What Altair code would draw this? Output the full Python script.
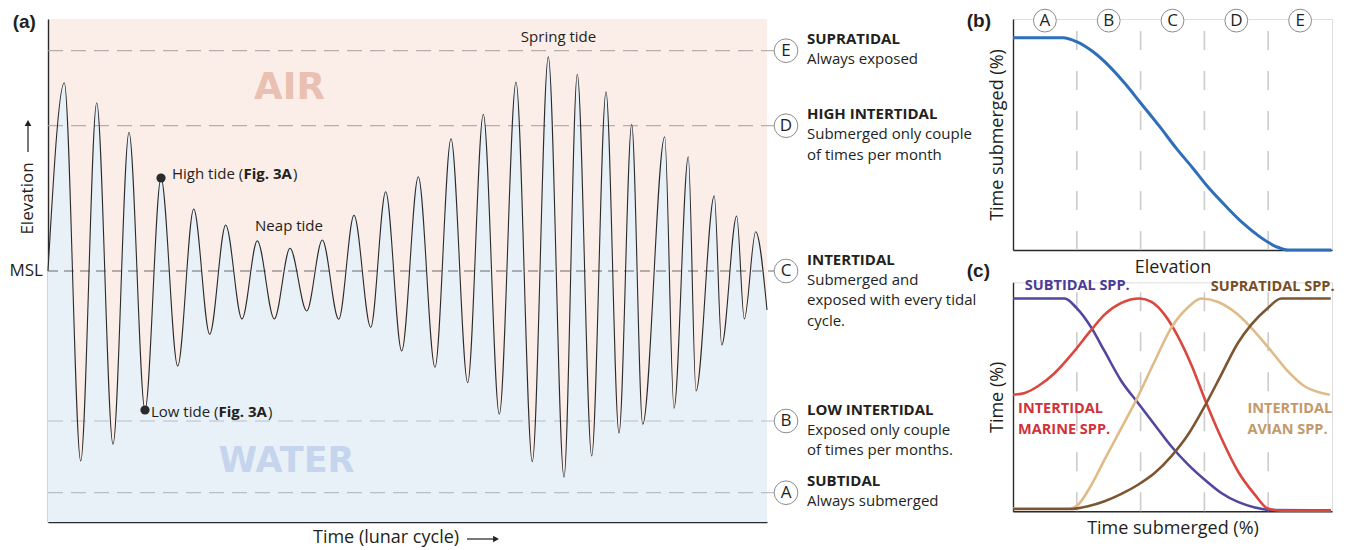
import altair as alt
import pandas as pd

FONT = "Open Sans"
LABEL_FONT = "Liberation Sans"
INK = "#231f20"

# ---------------- panel (a): tide curve (time units, elevation relative to MSL) -------------
tide_time = [0, 16.3, 32.7, 48.7, 65, 81, 97, 113, 129.7, 145.7, 161.7, 177.7, 194, 209.3,
             226.3, 242, 258.7, 274.3, 290.7, 306, 322.7, 337.7, 353.7, 370.3, 387, 403,
             419.7, 435.3, 451.3, 468, 484.3, 500.3, 516, 529.3, 543.7, 558, 571, 583.7,
             594.7, 616.7, 626, 640.3, 648, 666.3, 673.7, 688.7, 696.3, 707.7, 719]
tide_elev = [0, 188.3, -190, 168.3, -173.3, 138.7, -139, 93, -95, 62, -63.3, 46, -48, 30.3,
             -48, 22.7, -40, 31, -48.3, 55.7, -56.3, 79.3, -80, 94.3, -96.3, 132.3, -111.7,
             156.7, -143.3, 189, -190.7, 214.3, -206.3, 196.7, -185, 179.3, -162.3, 146.7,
             -153.3, 134.3, -137.3, 114.3, -120, 75.3, -74, 55, -48, 39.3, -39]

zone_ids = ["A", "B", "C", "D", "E"]
zone_elev = [-221.7, -150.0, 0.0, 145.3, 220.3]
zone_head = ["SUBTIDAL", "LOW INTERTIDAL", "INTERTIDAL", "HIGH INTERTIDAL", "SUPRATIDAL"]
zone_desc = ["Always submerged",
             "Exposed only couple\nof times per months.",
             "Submerged and\nexposed with every tidal\ncycle.",
             "Submerged only couple\nof times per month",
             "Always exposed"]

marker_time = [113, 97]      # high tide, low tide
marker_elev = [93, -139]

# ---------------- panel (b): time submerged vs elevation ----------------
elev_pct = [0, 15.7, 19.9, 25.1, 30.3, 35.5, 39.7, 46.0, 51.2, 56.4, 60.6, 66.9, 72.1, 77.3,
            82.6, 86.2, 99.8]
subm_pct = [91.9, 91.9, 90.2, 85.8, 79.4, 71.4, 64.2, 53.4, 44.0, 35.4, 28.1, 18.7, 11.6, 5.8,
            1.4, 0.0, 0.0]
band_letters = ["A", "B", "C", "D", "E"]
band_centers = [10, 30, 50, 70, 90]
band_edges = [20, 40, 60, 80]

# ---------------- panel (c): species curves ----------------
sub_x = [0, 16.2, 19.9, 24.6, 28.7, 34.0, 39.2, 44.4, 49.6, 54.9, 60.1, 65.3, 70.5, 75.8, 80.5, 99.6]
sub_y = [92.9, 92.9, 88.8, 80.1, 69.9, 56.8, 47.3, 37.8, 28.4, 20.4, 13.8, 8.0, 4.1, 1.7, 0.6, 0.4]
mar_x = [0, 3.7, 7.8, 13.1, 18.3, 24.6, 28.7, 34.0, 39.7, 43.4, 47.5, 51.7, 55.9, 60.6, 65.3,
         70.5, 75.8, 79.9, 84.1, 99.6]
mar_y = [50.9, 51.7, 54.6, 60.4, 68.4, 79.3, 85.9, 91.0, 92.9, 91.4, 85.9, 76.4, 64.0, 47.3,
         32.0, 17.5, 7.3, 1.2, 0.3, 0.3]
avi_x = [0, 17.8, 20.4, 24.6, 28.7, 34.0, 39.2, 44.4, 49.6, 54.9, 59.0, 64.3, 70.5, 74.7, 81.0,
         86.2, 91.4, 96.7, 99.3]
avi_y = [1.2, 1.2, 2.9, 11.6, 22.6, 36.4, 50.2, 65.5, 80.1, 89.1, 92.9, 91.4, 85.9, 80.1, 69.9,
         61.1, 54.6, 51.7, 50.9]
sup_x = [0, 17.8, 23.5, 28.7, 34.0, 39.2, 44.4, 49.6, 54.9, 60.1, 65.3, 70.5, 74.7, 79.9, 84.1, 99.6]
sup_y = [1.0, 1.0, 2.2, 4.4, 7.6, 11.6, 16.7, 24.0, 33.5, 45.9, 59.7, 73.5, 81.5, 88.8, 92.9, 92.9]
species = ["subtidal", "marine", "avian", "supratidal"]
species_colors = ["#5146a0", "#d9473f", "#e0bb88", "#7d5530"]

# ======================= build panel (a) =======================
TMIN, TMAX = 0, 719
EMIN, EMAX = -251, 252
xa = alt.Scale(domain=[TMIN, TMAX], nice=False, zero=False)
ya = alt.Scale(domain=[EMIN, EMAX], nice=False, zero=False)

tide_df = pd.DataFrame({"t": tide_time, "e": tide_elev})
zone_df = pd.DataFrame({"zone": zone_ids, "elev": zone_elev, "head": zone_head, "desc": zone_desc})
mark_df = pd.DataFrame({"t": marker_time, "e": marker_elev})
one = pd.DataFrame({"k": [0]})

axis_a = alt.Axis(title=None, ticks=False, labels=False, grid=False,
                  domainColor="#2a2a2a", domainWidth=1.4)

water = alt.Chart(tide_df).mark_area(color="#e8f1f8", interpolate="monotone").encode(
    x=alt.X("t:Q", scale=xa, axis=axis_a),
    y=alt.Y("e:Q", scale=ya, axis=axis_a),
    y2=alt.datum(EMIN),
)

rules_air = alt.Chart(zone_df).transform_filter("datum.zone == 'D' || datum.zone == 'E'").mark_rule(
    color="#a89e9b", strokeWidth=1.2, strokeDash=[15, 8], opacity=0.8
).encode(y="elev:Q", x=alt.datum(0), x2=alt.datum(726))
rules_water = alt.Chart(zone_df).transform_filter("datum.zone == 'A' || datum.zone == 'B'").mark_rule(
    color="#a9b2bd", strokeWidth=1.2, strokeDash=[15, 8], opacity=0.8
).encode(y="elev:Q", x=alt.datum(0), x2=alt.datum(726))
rule_msl = alt.Chart(zone_df).transform_filter("datum.zone == 'C'").mark_rule(
    color="#6b6b6b", strokeWidth=1.2, strokeDash=[10, 6]
).encode(y="elev:Q", x=alt.datum(0), x2=alt.datum(726))

tide_line = alt.Chart(tide_df).mark_line(color="#2b2b2b", strokeWidth=1.1, interpolate="monotone").encode(
    x="t:Q", y="e:Q")

dots = alt.Chart(mark_df).mark_circle(size=85, color="#2b2b2b", opacity=1).encode(x="t:Q", y="e:Q")

def txt(text, t, e, size=15, weight="normal", align="left", color=INK, font=FONT, angle=0, data=one):
    kw = dict(text=text, fontSize=size, fontWeight=weight, align=align, color=color, font=font,
              baseline="middle")
    if angle:
        kw["angle"] = angle
    return alt.Chart(data).mark_text(**kw).encode(x=alt.datum(t), y=alt.datum(e))

air = txt("AIR", 241.5, 183.5, size=37, weight="bold", align="center", color="#e9c0b1", font="DejaVu Sans")
wat = txt("WATER", 238.5, -190, size=35, weight="bold", align="center", color="#c6d5ee", font="DejaVu Sans")
spring = txt("Spring tide", 510.5, 233.7, align="center")
neap = txt("Neap tide", 241, 45, align="center")
hi1 = txt("High tide (", 124, 97.3)
hi2 = txt("Fig. 3A", 195.5, 97.3, weight="bold")
hi3 = txt(")", 245, 97.3)
lo1 = txt("Low tide (", 103, -140.7)
lo2 = txt("Fig. 3A", 170.5, -140.7, weight="bold")
lo3 = txt(")", 220, -140.7)
msl = txt("MSL", -5, 0, size=17, align="right")
elev_title = txt("Elevation", -20, 72.5, size=17, align="center", angle=270)
time_title = txt("Time (lunar cycle)", 265, -267, size=18)
lab_a = txt("(a)", -35.3, 249, size=19, weight="bold", font=LABEL_FONT)

# arrows next to the axis titles
up_arrow = alt.Chart(one).mark_rule(color=INK, strokeWidth=1.2).encode(
    x=alt.datum(-20), y=alt.datum(119), y2=alt.datum(146))
up_head = alt.Chart(one).mark_point(shape="triangle-up", filled=True, size=45, color=INK, opacity=1).encode(
    x=alt.datum(-20), y=alt.datum(148))
right_arrow = alt.Chart(one).mark_rule(color=INK, strokeWidth=1.2).encode(
    y=alt.datum(-268), x=alt.datum(419), x2=alt.datum(446))
right_head = alt.Chart(one).mark_point(shape="triangle-right", filled=True, size=45, color=INK, opacity=1).encode(
    x=alt.datum(448), y=alt.datum(-268))

circles = alt.Chart(zone_df).mark_circle(size=560, fill="white", stroke="#8c8c8c", strokeWidth=1,
                                         opacity=1).encode(x=alt.datum(738), y="elev:Q")
letters = alt.Chart(zone_df).mark_text(font=FONT, fontSize=17, color=INK).encode(
    x=alt.datum(738), y="elev:Q", text="zone:N")
heads = alt.Chart(zone_df).mark_text(font=FONT, fontSize=15, fontWeight="bold", align="left",
                                     baseline="middle", dy=-11.5, color=INK).encode(
    x=alt.datum(759), y="elev:Q", text="head:N")
descs = alt.Chart(zone_df).mark_text(font=FONT, fontSize=15, align="left", baseline="top", dy=1.6,
                                     lineBreak="\n", lineHeight=20.5, color=INK).encode(
    x=alt.datum(759), y="elev:Q", text="desc:N")

panel_a = alt.layer(
    water, rules_air, rules_water, rule_msl, tide_line, dots, air, wat, spring, neap,
    hi1, hi2, hi3, lo1, lo2, lo3, msl, elev_title, time_title, up_arrow, up_head,
    right_arrow, right_head, lab_a, circles, letters, heads, descs
).properties(width=719, height=503, view=alt.ViewBackground(fill="#fbede8", strokeWidth=0))

# ======================= build panel (b) =======================
def paxis(title, pad):
    return alt.Axis(title=title, ticks=False, labels=False, grid=False, domainColor="#2a2a2a",
                    domainWidth=1.4, titleFont=FONT, titleFontSize=18, titleFontWeight="normal",
                    titleColor=INK, titlePadding=pad)

xs = alt.Scale(domain=[0, 100], nice=False, zero=False)
ys = alt.Scale(domain=[0, 100], nice=False, zero=False)

b_df = pd.DataFrame({"x": elev_pct, "y": subm_pct})
band_df = pd.DataFrame({"c": band_centers, "L": band_letters})
edge_df = pd.DataFrame({"edge": band_edges})

b_line = alt.Chart(b_df).mark_line(color="#2f6fba", strokeWidth=3, interpolate="monotone").encode(
    x=alt.X("x:Q", scale=xs, axis=paxis("Elevation", 8)),
    y=alt.Y("y:Q", scale=ys, axis=paxis("Time submerged (%)", 7)),
)
b_dash = alt.Chart(edge_df).mark_rule(color="#cccccc", strokeWidth=1.6, strokeDash=[19, 21]).encode(
    x="edge:Q", y=alt.datum(0), y2=alt.datum(97.4))
b_circ = alt.Chart(band_df).mark_circle(size=520, fill="white", stroke="#8c8c8c", strokeWidth=1,
                                        opacity=1).encode(x="c:Q", y=alt.datum(99.3))
b_let = alt.Chart(band_df).mark_text(font=FONT, fontSize=17, color=INK).encode(
    x="c:Q", y=alt.datum(99.3), text="L:N")
lab_b = txt("(b)", -14.5, 99.35, size=19, weight="bold", font=LABEL_FONT)

panel_b = alt.layer(b_dash, b_line, b_circ, b_let, lab_b).properties(width=319, height=231)

# ======================= build panel (c) =======================
c_df = pd.concat([
    pd.DataFrame({"x": sub_x, "y": sub_y, "sp": "subtidal"}),
    pd.DataFrame({"x": mar_x, "y": mar_y, "sp": "marine"}),
    pd.DataFrame({"x": avi_x, "y": avi_y, "sp": "avian"}),
    pd.DataFrame({"x": sup_x, "y": sup_y, "sp": "supratidal"}),
], ignore_index=True)

c_dash = alt.Chart(edge_df).mark_rule(color="#cccccc", strokeWidth=1.6, strokeDash=[19, 21]).encode(
    x="edge:Q", y=alt.datum(0), y2=alt.datum(101.5))
c_lines = alt.Chart(c_df).mark_line(strokeWidth=2.6, interpolate="monotone").encode(
    x=alt.X("x:Q", scale=xs, axis=paxis("Time submerged (%)", 8)),
    y=alt.Y("y:Q", scale=ys, axis=paxis("Time (%)", 7)),
    color=alt.Color("sp:N", scale=alt.Scale(domain=species, range=species_colors), legend=None),
    detail="sp:N",
)
c1 = txt("SUBTIDAL SPP.", 3.7, 98.3, size=14.5, weight="bold", color="#4b3b96")
c2 = txt("SUPRATIDAL SPP.", 100.8, 97.9, size=14.5, weight="bold", align="right", color="#7a4e24")
c3 = txt("INTERTIDAL", 1.6, 44.8, size=14.5, weight="bold", color="#d0323a")
c4 = txt("MARINE SPP.", 1.6, 35.6, size=14.5, weight="bold", color="#d0323a")
c5 = txt("INTERTIDAL", 73.5, 44.8, size=14.5, weight="bold", color="#c4996a")
c6 = txt("AVIAN SPP.", 73.5, 35.6, size=14.5, weight="bold", color="#c4996a")
lab_c = txt("(c)", -14.5, 104.9, size=19, weight="bold", font=LABEL_FONT)

panel_c = alt.layer(c_dash, c_lines, c1, c2, c3, c4, c5, c6, lab_c).properties(width=319, height=229)

right = alt.vconcat(panel_b, panel_c, spacing=32.3, bounds="flush")
chart = alt.hconcat(panel_a, right, spacing=246, bounds="flush").properties(
    padding={"left": 1, "top": -2, "right": 0, "bottom": 3}
).configure_view(strokeWidth=0).configure(font=FONT)

chart.save("out.html", embed_options={"renderer": "svg", "actions": False})
